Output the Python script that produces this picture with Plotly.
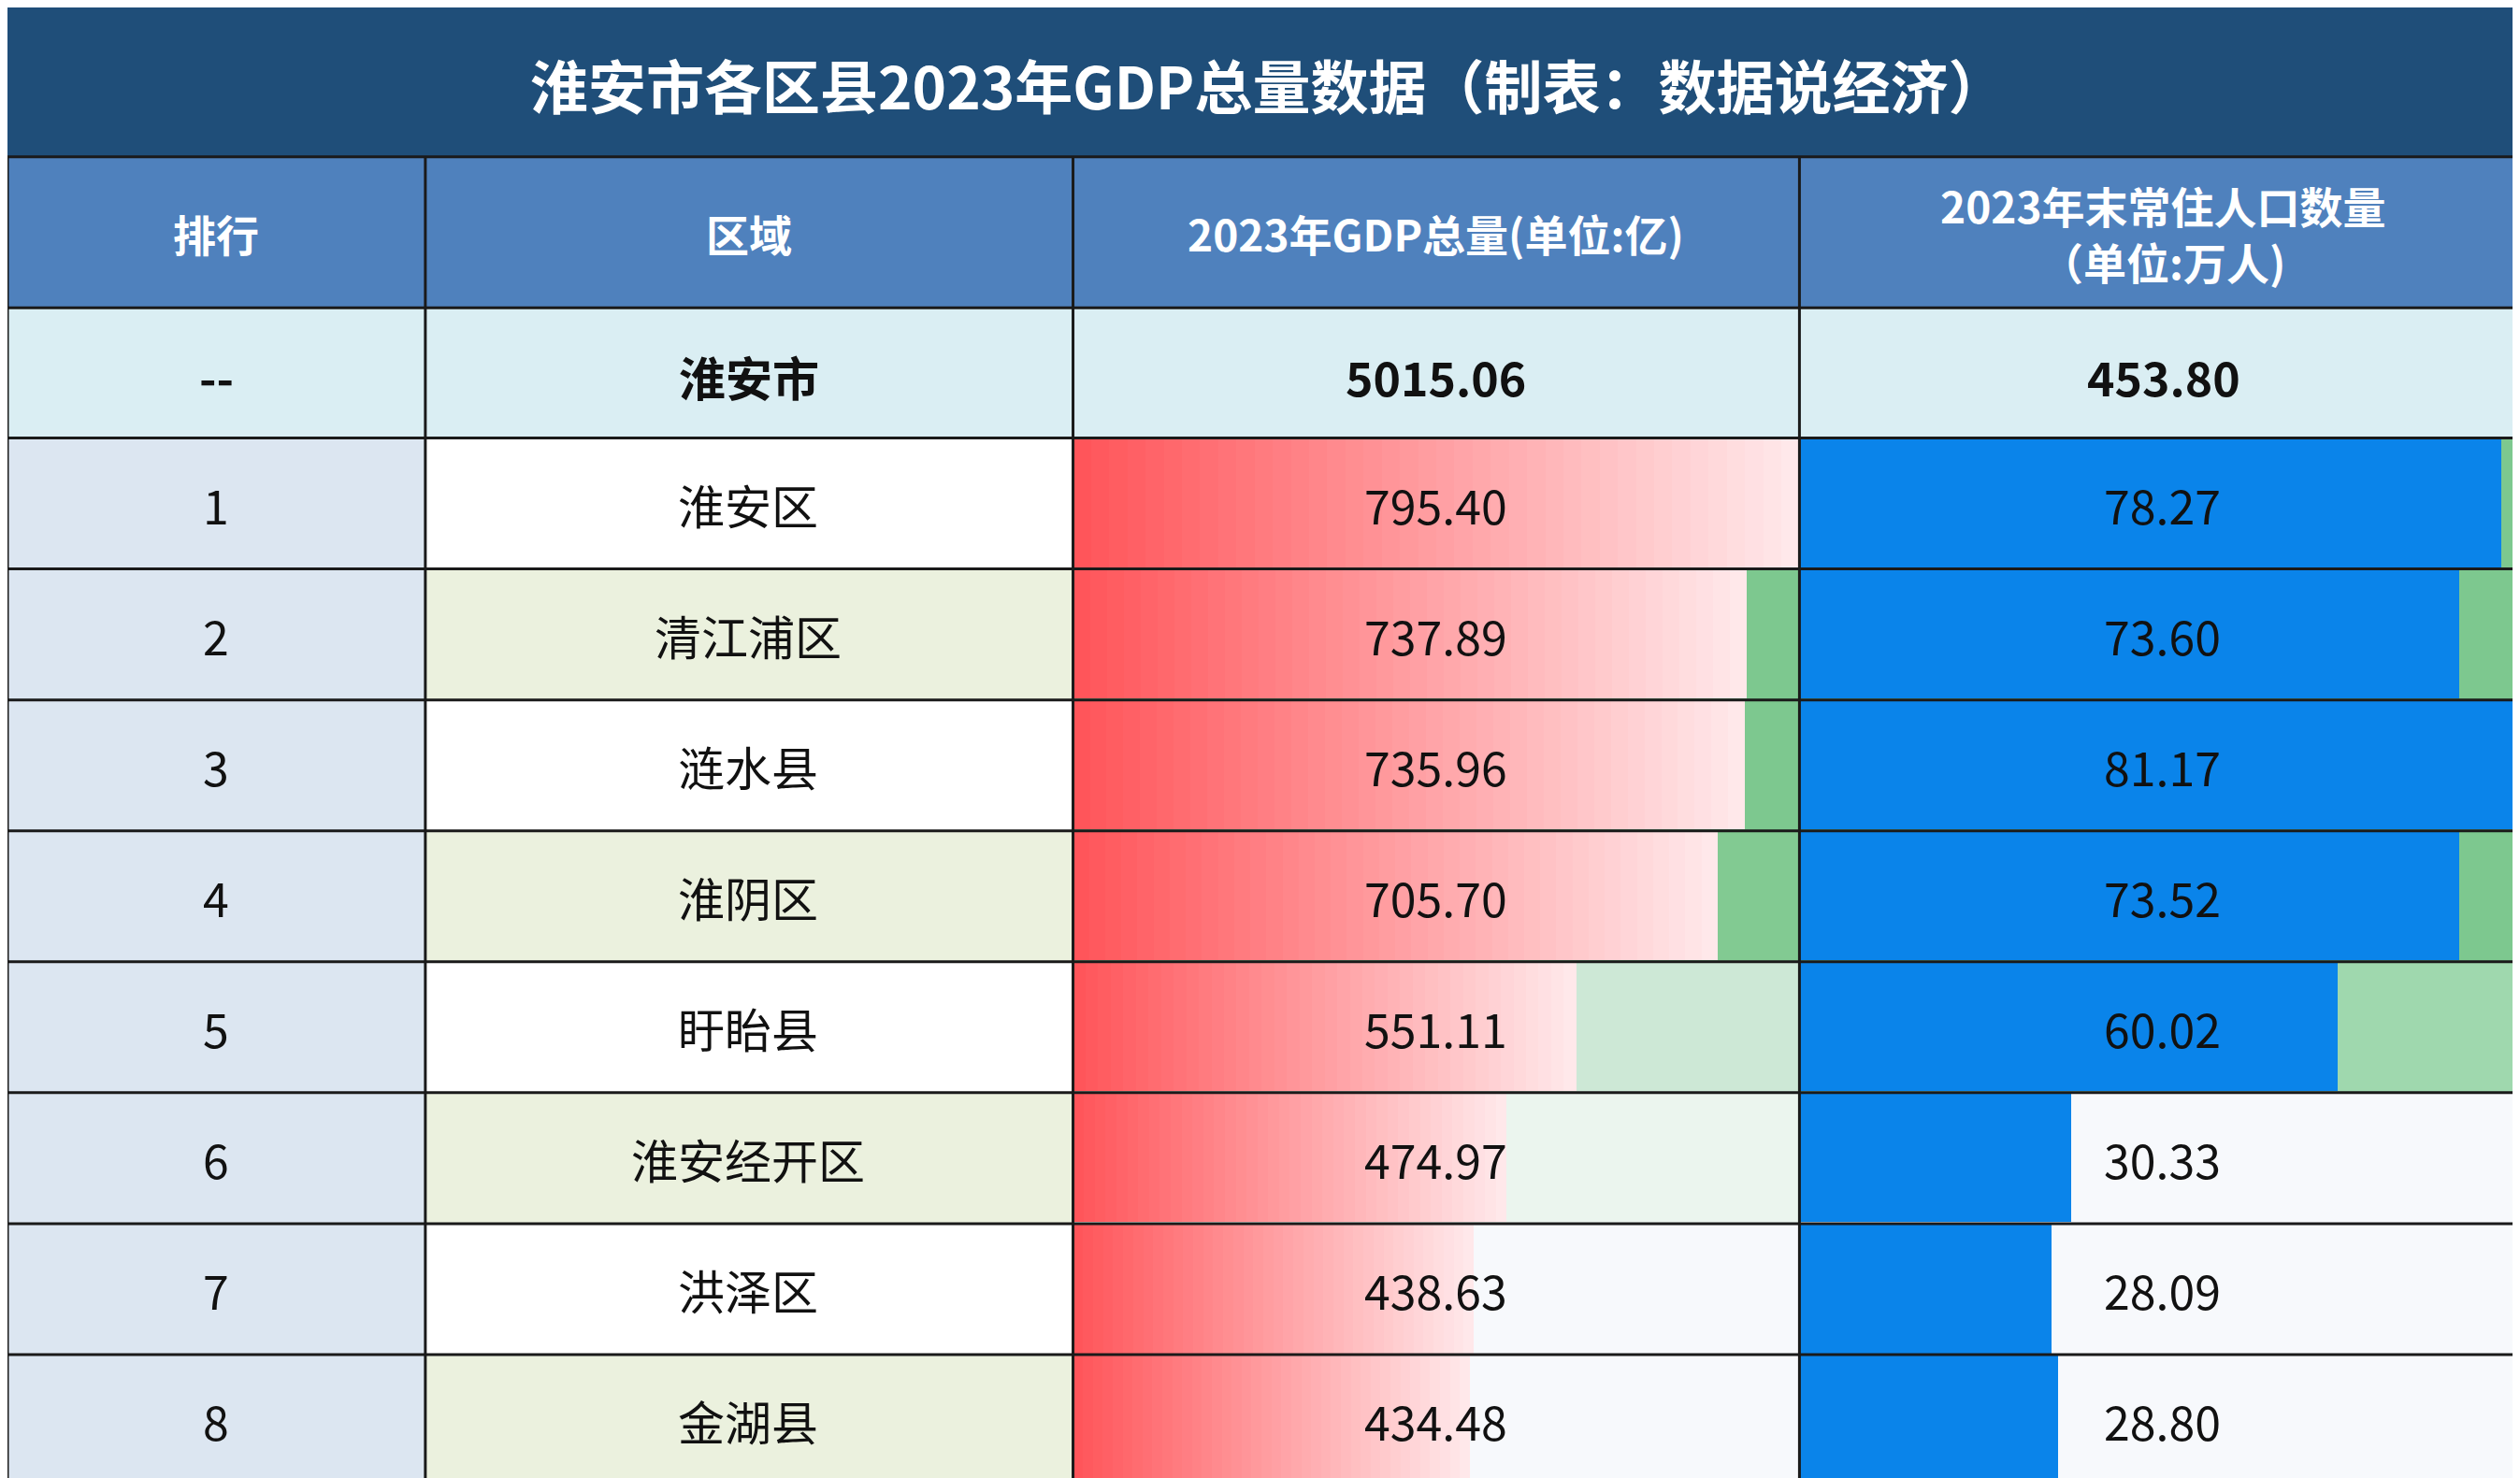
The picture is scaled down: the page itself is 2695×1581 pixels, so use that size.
import plotly.graph_objects as go

ranks = ["1", "2", "3", "4", "5", "6", "7", "8"]
regions = ["淮安区", "清江浦区", "涟水县", "淮阴区", "盱眙县", "淮安经开区", "洪泽区", "金湖县"]
gdp = [795.40, 737.89, 735.96, 705.70, 551.11, 474.97, 438.63, 434.48]
pop = [78.27, 73.60, 81.17, 73.52, 60.02, 30.33, 28.09, 28.80]
total_label = ["--", "淮安市", "5015.06", "453.80"]
title = "淮安市各区县2023年GDP总量数据（制表：数据说经济）"
headers = ["排行", "区域", "2023年GDP总量(单位:亿)", "2023年末常住人口数量<br>（单位:万人)"]

W, H = 1568.0, 920.0
cols = [0, 260, 663, 1115, 1568]
row_top = 268.0
row_h = (920 - 268) / 8
FONT = "Noto Sans CJK SC"

def px(x): return x / W
def py(y): return 1 - y / H

gdp_bg = ["#ffe6e8", "#7dc88f", "#7dc88f", "#82ca92", "#cde8d6", "#ebf5ee", "#f7f9fc", "#f7f9fc"]
pop_bg = ["#7dc88f", "#7dc88f", "#7dc88f", "#7dc88f", "#9fd8ae", "#f7f9fc", "#f7f9fc", "#f7f9fc"]

shapes, ann = [], []
def rect(x0, y0, x1, y1, color):
    shapes.append(dict(type="rect", xref="paper", yref="paper", x0=px(x0), x1=px(x1),
                       y0=py(y1), y1=py(y0), fillcolor=color, line=dict(width=0), layer="below"))
def text(x, y, t, size, color="#111", bold=False):
    ann.append(dict(xref="paper", yref="paper", x=px(x), y=py(y), text=f"<b>{t}</b>" if bold else t,
                    xanchor="center", yanchor="middle", showarrow=False,
                    font=dict(family=FONT, size=size, color=color)))

rect(0, 0, W, 93, "#1f4e79")
text(W / 2, 48, title, 62, "white", True)
rect(0, 93, W, 187, "#4f81bd")
for i, h in enumerate(headers):
    text((cols[i] + cols[i + 1]) / 2, 140, h, 46, "white", True)
rect(0, 187, W, 268, "#daeef3")
for i, t in enumerate(total_label):
    text((cols[i] + cols[i + 1]) / 2, 229, t, 50, "#111", True)

for r in range(8):
    y0 = row_top + r * row_h
    y1 = y0 + row_h
    yc = (y0 + y1) / 2
    rect(0, y0, 260, y1, "#dce6f1")
    rect(260, y0, 663, y1, "#ffffff" if r % 2 == 0 else "#ebf1de")
    rect(663, y0, 1115, y1, gdp_bg[r])
    rect(1115, y0, 1568, y1, pop_bg[r])
    text(130, yc, ranks[r], 50)
    text(461, yc, regions[r], 50)
    text(889, yc, f"{gdp[r]:.2f}", 50)
    text(1341, yc, f"{pop[r]:.2f}", 50)

for x in cols:
    shapes.append(dict(type="line", xref="paper", yref="paper", x0=px(x), x1=px(x), y0=0, y1=py(93),
                       line=dict(color="#1a1a1a", width=3)))
for y in [93, 187, 268] + [row_top + k * row_h for k in range(1, 9)]:
    shapes.append(dict(type="line", xref="paper", yref="paper", x0=0, x1=1, y0=py(y), y1=py(y),
                       line=dict(color="#1a1a1a", width=3)))

fig = go.Figure()
N = 40
def lerp(c1, c2, t):
    return "rgb(%d,%d,%d)" % tuple(round(a + (b - a) * t) for a, b in zip(c1, c2))
for k in range(N):
    fig.add_trace(go.Bar(y=ranks, x=[v / N for v in gdp], orientation="h", xaxis="x", yaxis="y",
                         marker=dict(color=lerp((255, 85, 90), (255, 232, 234), k / (N - 1)), line=dict(width=0)),
                         showlegend=False, hoverinfo="skip"))
fig.add_trace(go.Bar(y=ranks, x=pop, orientation="h", xaxis="x2", yaxis="y2",
                     marker=dict(color="#0a84ea", line=dict(width=0)), showlegend=False))

ydom = [0, py(268)]
fig.update_layout(
    width=2695, height=1581, margin=dict(l=0, r=0, t=0, b=0), paper_bgcolor="white", plot_bgcolor="rgba(0,0,0,0)",
    barmode="stack", bargap=0.02, shapes=shapes, annotations=ann,
    xaxis=dict(domain=[px(663), px(1115)], range=[0, max(gdp)], visible=False),
    yaxis=dict(domain=ydom, categoryorder="array", categoryarray=ranks, autorange="reversed", visible=False),
    xaxis2=dict(domain=[px(1115), px(1568)], range=[0, max(pop)], visible=False),
    yaxis2=dict(domain=ydom, anchor="x2", categoryorder="array", categoryarray=ranks, autorange="reversed", visible=False),
)
fig.write_html("out.html")
